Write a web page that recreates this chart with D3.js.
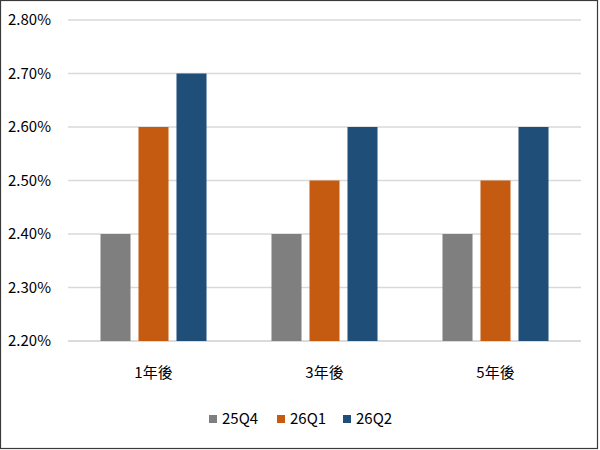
<!DOCTYPE html>
<html>
<head>
<meta charset="utf-8">
<script src="https://cdn.jsdelivr.net/npm/d3@7"></script>
<style>
  body { margin: 0; background: #fff; }
  text { font-family: "Noto Sans CJK TC", "Noto Sans", sans-serif; fill: #000; }
</style>
</head>
<body>
<svg width="600" height="450"></svg>
<script>
const categories = ["1年後", "3年後", "5年後"];
const seriesNames = ["25Q4", "26Q1", "26Q2"];
const s25Q4 = [2.40, 2.40, 2.40];
const s26Q1 = [2.60, 2.50, 2.50];
const s26Q2 = [2.70, 2.60, 2.60];
const yTicks = [2.20, 2.30, 2.40, 2.50, 2.60, 2.70, 2.80];
const colors = ["#7f7f7f", "#c55a11", "#1f4e79"];

const seriesValues = [s25Q4, s26Q1, s26Q2];
const rows = categories.map((c, i) => ({
    cat: c,
    vals: seriesNames.map((s, j) => ({ key: s, value: seriesValues[j][i] }))
}));

const svg = d3.select("svg");

// frame
svg.append("rect")
    .attr("x", 0.5).attr("y", 0.5)
    .attr("width", 597).attr("height", 448)
    .attr("fill", "none")
    .attr("stroke", "#3a3a3a")
    .attr("stroke-width", 1.2);

const plot = { left: 68, right: 581, top: 20, bottom: 341 };

const y = d3.scaleLinear()
    .domain([2.20, 2.80])
    .range([plot.bottom, plot.top]);

const x0 = d3.scaleBand()
    .domain(categories)
    .range([plot.left, plot.right])
    .paddingInner(0.38)
    .paddingOuter(0.19);

const x1 = d3.scaleBand()
    .domain(seriesNames)
    .range([0, x0.bandwidth()])
    .paddingInner(0.21);

// gridlines
svg.append("g")
    .selectAll("line")
    .data(yTicks)
    .enter().append("line")
    .attr("x1", plot.left)
    .attr("x2", plot.right)
    .attr("y1", d => y(d))
    .attr("y2", d => y(d))
    .attr("stroke", d => d === 2.20 ? "#cfcfcf" : "#d9d9d9")
    .attr("stroke-width", 1.3);

// y labels
svg.append("g")
    .selectAll("text")
    .data(yTicks)
    .enter().append("text")
    .attr("x", 51)
    .attr("y", d => y(d))
    .attr("dy", "0.36em")
    .attr("text-anchor", "end")
    .attr("font-size", 15)
    .text(d => d3.format(".2f")(d) + "%");

// bars
const group = svg.append("g")
    .selectAll("g")
    .data(rows)
    .enter().append("g")
    .attr("transform", d => `translate(${x0(d.cat)},0)`);

group.selectAll("rect")
    .data(d => d.vals)
    .enter().append("rect")
    .attr("x", d => x1(d.key))
    .attr("width", x1.bandwidth())
    .attr("y", d => y(d.value))
    .attr("height", d => y(2.20) - y(d.value))
    .attr("fill", (d, i) => colors[i]);

// category labels
svg.append("g")
    .selectAll("text")
    .data(categories)
    .enter().append("text")
    .attr("x", d => x0(d) + x0.bandwidth() / 2)
    .attr("y", 373)
    .attr("dy", "0.36em")
    .attr("text-anchor", "middle")
    .attr("font-size", 15)
    .text(d => d);

// legend
const legendX = [209, 277, 343];
const legend = svg.append("g")
    .selectAll("g")
    .data(seriesNames)
    .enter().append("g")
    .attr("transform", (d, i) => `translate(${legendX[i]},419)`);

legend.append("rect")
    .attr("x", 0).attr("y", -4)
    .attr("width", 8).attr("height", 8)
    .attr("fill", (d, i) => colors[i]);

legend.append("text")
    .attr("x", 13)
    .attr("y", 0)
    .attr("dy", "0.36em")
    .attr("font-size", 15)
    .text(d => d);
</script>
</body>
</html>
